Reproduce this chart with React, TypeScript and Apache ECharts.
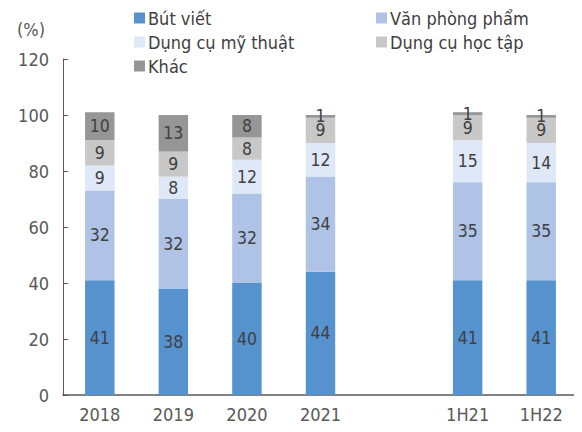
import React, { useEffect, useRef } from "react";
import * as echarts from "echarts";

const categories = ["2018", "2019", "2020", "2021", "", "1H21", "1H22"];
const butViet = [41, 38, 40, 44, null, 41, 41];
const vanPhongPham = [32, 32, 32, 34, null, 35, 35];
const dungCuMyThuat = [9, 8, 12, 12, null, 15, 14];
const dungCuHocTap = [9, 9, 8, 9, null, 9, 9];
const khac = [10, 13, 8, 1, null, 1, 1];
const yTicks = [0, 20, 40, 60, 80, 100, 120];

const FONT = "'DejaVu Sans Condensed', 'DejaVu Sans', sans-serif";
const TXT = "#404040";
const AX = "#595959";
const FS = 18;

export default function App() {
  const ref = useRef<HTMLDivElement>(null);
  useEffect(() => {
    const chart = echarts.init(ref.current!, null, { renderer: "svg" });
    const mk = (name: string, data: (number | null)[], color: string) => ({
      name,
      type: "bar",
      stack: "s",
      data,
      barWidth: "40%",
      itemStyle: { color },
      label: {
        show: true,
        position: "inside",
        color: TXT,
        fontFamily: FONT,
        fontSize: 17.5,
      },
    });
    const legendBase = {
      orient: "vertical",
      top: 9,
      padding: 0,
      itemWidth: 11,
      itemHeight: 11,
      itemGap: 6,
      icon: "rect",
      textStyle: { color: TXT, fontSize: FS, fontFamily: FONT, padding: [0, 0, 0, -2] },
    };
    chart.setOption({
      animation: false,
      textStyle: { fontFamily: FONT },
      grid: { left: 63, right: 4, top: 59, bottom: 37 },
      legend: [
        { ...legendBase, left: 134, data: ["Bút viết", "Dụng cụ mỹ thuật", "Khác"] },
        { ...legendBase, left: 376, data: ["Văn phòng phẩm", "Dụng cụ học tập"] },
      ],
      graphic: [
        {
          type: "text",
          left: 17,
          top: 20,
          style: { text: "(%)", fill: AX, fontSize: FS, fontFamily: FONT },
        },
      ],
      xAxis: {
        type: "category",
        data: categories,
        axisLine: { lineStyle: { color: AX, width: 1.5 } },
        axisTick: { inside: true, length: 5, lineStyle: { color: AX } },
        axisLabel: { color: AX, fontSize: FS, fontFamily: FONT, margin: 10 },
      },
      yAxis: {
        type: "value",
        min: yTicks[0],
        max: yTicks[yTicks.length - 1],
        interval: 20,
        splitLine: { show: false },
        axisLine: { show: true, lineStyle: { color: AX } },
        axisTick: { show: true, inside: true, length: 5, lineStyle: { color: AX } },
        axisLabel: { color: AX, fontSize: FS, fontFamily: FONT, margin: 14 },
      },
      series: [
        mk("Bút viết", butViet, "#5592CE"),
        mk("Văn phòng phẩm", vanPhongPham, "#AEC3E6"),
        mk("Dụng cụ mỹ thuật", dungCuMyThuat, "#DFE8F7"),
        mk("Dụng cụ học tập", dungCuHocTap, "#C8C8C8"),
        mk("Khác", khac, "#969696"),
      ],
    });
    return () => chart.dispose();
  }, []);
  return <div ref={ref} style={{ width: 582, height: 432, margin: -8 }} />;
}
